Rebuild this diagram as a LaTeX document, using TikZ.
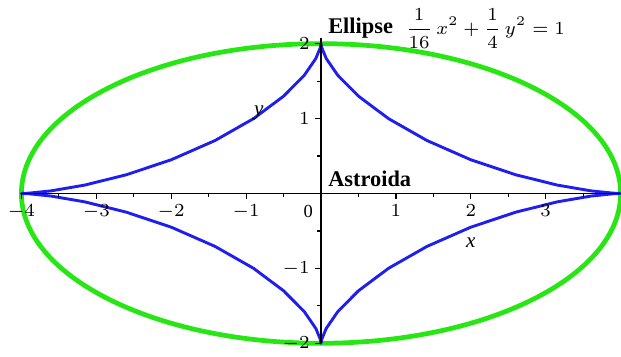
\documentclass[tikz,border=0pt]{standalone}
\usepackage{amsmath,amssymb}
\usepackage{fontspec}
\setmainfont{Liberation Serif}
\usepackage{tikz}
\usepackage{xcolor}
\usetikzlibrary{positioning,calc}

\definecolor{ellgreen}{RGB}{40,230,20}
\definecolor{astblue}{RGB}{30,30,240}

\begin{document}
\begin{tikzpicture}[
          x=1cm, y=1cm,
          lbl/.style={font=\fontsize{7}{8}\selectfont, inner sep=1pt},
          ttl/.style={font=\fontsize{8.5}{10}\selectfont\bfseries, inner sep=0pt},
          axisline/.style={line width=0.45pt, black},
          ellipseline/.style={line width=1.8pt, ellgreen},
          astroline/.style={line width=1.1pt, astblue, line join=round}
      ]
        \useasboundingbox (-4.286,-2.170) rectangle (4.005,2.583);
        % curves
        \draw[ellipseline] (0,0) ellipse (4 and 2);
        \draw[astroline] plot[domain=0:360, samples=49, variable=\t]
              ({4*cos(\t)*cos(\t)*cos(\t)}, {2*sin(\t)*sin(\t)*sin(\t)});
        % axes
        \draw[axisline] (-4,0) -- (4,0);
        \draw[axisline] (0,-2) -- (0,2.07);
        \foreach \i in {-4,-3,-2,-1,1,2,3} {
          \draw[axisline] (\i,0) -- (\i,-0.08);
          \node[lbl, below] (xt\i) at (\i,-0.11) {$\i$};
        }
        \foreach \i in {-3.5,-2.5,-1.5,-0.5,0.5,1.5,2.5,3.5}
          \draw[axisline] (\i,0) -- (\i,-0.05);
        \node[lbl, below] (xt0) at (-0.17,-0.11) {0};
        \foreach \j in {-2,-1,1,2} {
          \draw[axisline] (0,\j) -- (-0.08,\j);
          \node[lbl, left] (yt\j) at (-0.11,\j) {$\j$};
        }
        \foreach \j in {-1.5,-0.5,0.5,1.5}
          \draw[axisline] (0,\j) -- (-0.05,\j);
        \node[lbl, font=\fontsize{8}{9}\selectfont\itshape] (xlab) at (2.0,-0.66) {x};
        \node[lbl, font=\fontsize{8}{9}\selectfont\itshape] (ylab) at (-0.83,1.07) {y};
        % titles
        \node[ttl, anchor=west] (ell) at (0.09,2.21) {Ellipse};
        \node[anchor=west, inner sep=0pt, font=\fontsize{7.4}{9}\selectfont] (eq) at (1.12,2.2)
              {$\displaystyle \frac{1}{16}\,x^2+\frac{1}{4}\,y^2=1$};
        \node[ttl, anchor=west] (ast) at (0.09,0.19) {Astroida};
      \end{tikzpicture}
\end{document}
